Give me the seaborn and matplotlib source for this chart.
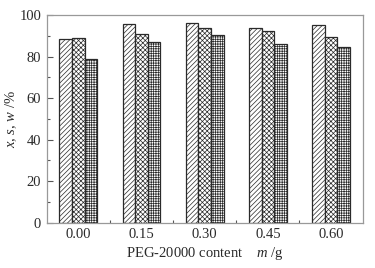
import matplotlib
matplotlib.use("Agg")
import matplotlib.pyplot as plt
import seaborn as sns
import pandas as pd
from matplotlib.ticker import MultipleLocator, FixedLocator

contents = ["0.00", "0.15", "0.30", "0.45", "0.60"]
series_names = ["x", "s", "w"]
x_vals = [88.4, 95.5, 96.1, 93.6, 95.0]
s_vals = [88.9, 91.0, 93.9, 92.1, 89.2]
w_vals = [78.7, 86.8, 90.4, 85.9, 84.6]

rows = []
for name, vals in zip(series_names, [x_vals, s_vals, w_vals]):
    for c, v in zip(contents, vals):
        rows.append({"content": c, "series": name, "value": v})
df = pd.DataFrame(rows)

sns.set_style("ticks")
plt.rcParams["font.family"] = ["Liberation Serif", "DejaVu Serif"]
plt.rcParams["mathtext.fontset"] = "custom"
plt.rcParams["mathtext.rm"] = "Liberation Serif"
plt.rcParams["mathtext.it"] = "Liberation Serif:italic"
plt.rcParams["hatch.linewidth"] = 0.5

fig = plt.figure(figsize=(3.75, 2.68), dpi=100)
ax = fig.add_axes([0.1245, 0.169, 0.8427, 0.775])

sns.barplot(data=df, x="content", y="value", hue="series", order=contents,
            hue_order=series_names, width=0.6, dodge=True,
            palette=["white", "white", "white"], edgecolor="#2a2a2a",
            linewidth=0.9, saturation=1, legend=False, ax=ax, errorbar=None)

hatches = ["///////", "xxxxxxx", "+++++++"]
for i, container in enumerate(ax.containers):
    for p in container:
        p.set_hatch(hatches[i])
        p.set_facecolor("white")
        p.set_edgecolor("#2a2a2a")

ax.set_xlim(-0.5, 4.5)
ax.set_ylim(0, 100)
ax.yaxis.set_major_locator(MultipleLocator(20))
ax.yaxis.set_minor_locator(MultipleLocator(10))
ax.xaxis.set_minor_locator(FixedLocator([0.5, 1.5, 2.5, 3.5]))
ax.tick_params(axis="both", which="both", direction="in", colors="#555555",
               labelcolor="#2a2a2a", labelsize=10.5, top=False, right=False)
ax.tick_params(axis="both", which="major", length=4, width=0.8, pad=4)
ax.tick_params(axis="both", which="minor", length=2.5, width=0.8)
for sp in ax.spines.values():
    sp.set_visible(True)
    sp.set_color("#999999")
    sp.set_linewidth(0.9)

ax.set_xlabel(r"PEG-20000 content    $m$ /g", fontsize=10.5, color="#2a2a2a", labelpad=3)
ax.set_ylabel(r"$x$, $s$, $w$ /%", fontsize=10.5, color="#2a2a2a", labelpad=0)

fig.savefig("out.png", dpi=100)
